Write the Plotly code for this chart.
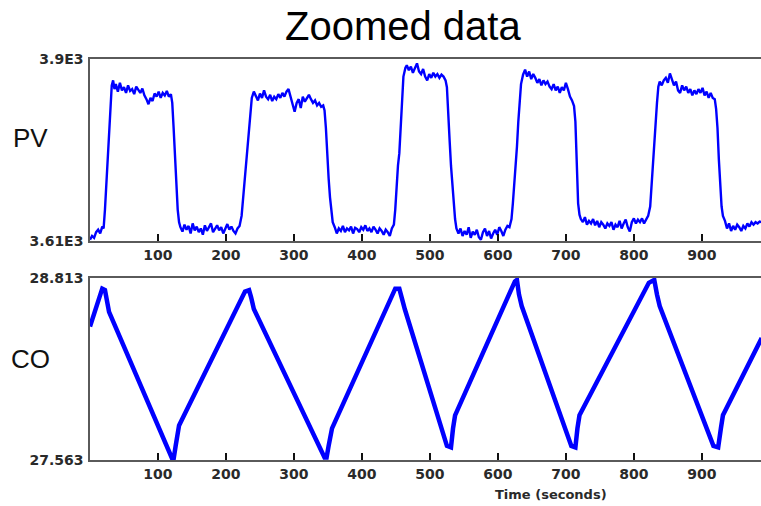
import plotly.graph_objects as go

# ---- data ----
pv_t = [0, 3, 6, 9, 12, 15, 18, 20,
        22, 24, 26, 28, 30, 32, 34, 36,
        38, 41, 44, 47, 50, 53, 56, 59, 62, 65, 68, 71, 74, 77, 80, 83, 86, 89, 92, 95, 98, 101, 104, 107, 110, 113, 116, 119,
        121, 123, 125, 127, 129, 131, 133,
        136, 139, 142, 145, 148, 151, 154, 157, 160, 163, 166, 169, 172, 175, 178, 181, 184, 187, 190, 193, 196, 199, 202, 205, 208, 211, 214, 217, 220,
        223, 226, 229, 232, 235, 238, 241,
        244, 247, 250, 253, 256, 259, 262, 265, 268, 271, 274, 277, 280, 283, 286, 289, 292, 295, 298, 301, 304, 307, 310, 313, 316, 319, 322, 325, 328, 331, 334, 337, 340, 343, 345,
        347, 349, 351, 353, 355, 357, 360,
        363, 366, 369, 372, 375, 378, 381, 384, 387, 390, 393, 396, 399, 402, 405, 408, 411, 414, 417, 420, 423, 426, 429, 432, 435, 438, 441, 444, 447,
        449, 451, 453, 455, 457, 459, 461, 464, 466,
        469, 472, 475, 478, 481, 484, 487, 490, 493, 496, 499, 502, 505, 508, 511, 514, 517, 520, 523, 525,
        527, 529, 531, 533, 535, 537, 539,
        542, 545, 548, 551, 554, 557, 560, 563, 566, 569, 572, 575, 578, 581, 584, 587, 590, 593, 596, 599, 602, 605, 608, 611, 614, 617, 620,
        622, 624, 626, 628, 630, 632, 634, 637,
        640, 643, 646, 649, 652, 655, 658, 661, 664, 667, 670, 673, 676, 679, 682, 685, 688, 691, 694, 697, 700, 703, 706, 709, 712,
        714, 716, 717, 718, 720, 722,
        725, 728, 731, 734, 737, 740, 743, 746, 749, 752, 755, 758, 761, 764, 767, 770, 773, 776, 779, 782, 785, 788, 791, 794, 797, 800, 803, 806, 809, 812, 815, 818, 821,
        824, 826, 828, 830, 832, 834, 836, 838,
        841, 844, 847, 850, 853, 856, 859, 862, 865, 868, 871, 874, 877, 880, 883, 886, 889, 892, 895, 898, 901, 904, 907, 910, 913, 916, 919, 921,
        923, 925, 927, 929, 931, 934,
        937, 940, 943, 946, 949, 952, 955, 958, 961, 964, 967, 970, 973, 976, 979, 982, 985, 988]

pv_v = [3612, 3618, 3615, 3624, 3628, 3622, 3633, 3630,
        3660, 3700, 3735, 3790, 3835, 3858, 3866, 3852,
        3860, 3848, 3862, 3850, 3855, 3846, 3858, 3849, 3852, 3844, 3856, 3850, 3846, 3853, 3842, 3836, 3828, 3838, 3833, 3845, 3840, 3848, 3838, 3846, 3842, 3849, 3840, 3844,
        3830, 3790, 3745, 3700, 3660, 3640, 3632,
        3625, 3636, 3628, 3634, 3622, 3638, 3627, 3633, 3624, 3630, 3620, 3635, 3626, 3632, 3638, 3624, 3630, 3635, 3627, 3632, 3622, 3629, 3637, 3628, 3633, 3626, 3622, 3630, 3634,
        3650, 3690, 3730, 3770, 3810, 3838, 3848,
        3842, 3834, 3845, 3838, 3850, 3840, 3836, 3843, 3833, 3840, 3836, 3844, 3838, 3846, 3840, 3848, 3852, 3840, 3826, 3816, 3830, 3836, 3822, 3840, 3832, 3838, 3843, 3836, 3830, 3834, 3826, 3830, 3824, 3826, 3818,
        3790, 3740, 3710, 3680, 3655, 3640, 3632,
        3622, 3630, 3626, 3634, 3624, 3630, 3627, 3633, 3622, 3631, 3629, 3624, 3632, 3628, 3635, 3626, 3630, 3624, 3633, 3628, 3622, 3630, 3626, 3620, 3628, 3624, 3618, 3630, 3636,
        3660, 3700, 3730, 3750, 3790, 3840, 3872, 3886, 3890,
        3882, 3888, 3878, 3886, 3893, 3880, 3876, 3884, 3872, 3866, 3876, 3870, 3878, 3872, 3876, 3870, 3875, 3872, 3866, 3855,
        3820, 3770, 3730, 3700, 3670, 3645, 3630,
        3622, 3630, 3618, 3626, 3620, 3632, 3615, 3625, 3620, 3628, 3616, 3612, 3624, 3630, 3618, 3626, 3614, 3622, 3628, 3620, 3632, 3626, 3618, 3628, 3634, 3632, 3645,
        3670, 3700, 3720, 3760, 3800, 3835, 3860, 3875,
        3883, 3872, 3880, 3868, 3876, 3870, 3862, 3868, 3858, 3866, 3860, 3864, 3856, 3852, 3860, 3850, 3856, 3846, 3855, 3850, 3862, 3852, 3840, 3834, 3825,
        3800, 3740, 3700, 3670, 3652, 3645,
        3640, 3648, 3636, 3642, 3638, 3645, 3635, 3642, 3632, 3640, 3636, 3630, 3638, 3634, 3640, 3628, 3636, 3632, 3642, 3630, 3638, 3644, 3632, 3625, 3640, 3646, 3638, 3644, 3640, 3646, 3638, 3645, 3650,
        3665, 3700, 3740, 3770, 3795, 3830, 3856, 3864,
        3858, 3866, 3870, 3862, 3877, 3866, 3858, 3864, 3850, 3846, 3858, 3850, 3856, 3846, 3852, 3842, 3850, 3844, 3852, 3846, 3854, 3842, 3848, 3838, 3846, 3838, 3836, 3820,
        3790, 3740, 3690, 3665, 3650, 3642,
        3630, 3638, 3626, 3634, 3628, 3636, 3632, 3626, 3634, 3630, 3638, 3633, 3640, 3636, 3640, 3638, 3641, 3640]

co_t = [0, 8, 14, 18, 22, 25, 28, 121, 123, 126, 131, 228, 234, 237, 241, 345, 348, 351, 356,
        449, 455, 459, 463, 525, 531, 534, 537, 625, 628, 631, 635, 708, 714, 717, 720,
        822, 830, 834, 838, 917, 924, 928, 931, 988]
co_v = [28.48, 28.60, 28.70, 28.74, 28.73, 28.66, 28.58, 27.57, 27.57, 27.66, 27.80, 28.72, 28.73, 28.68, 28.60,
        27.58, 27.58, 27.66, 27.78, 28.74, 28.74, 28.67, 28.60, 27.66, 27.65, 27.78, 27.87, 28.79, 28.80, 28.70, 28.62,
        27.66, 27.65, 27.78, 27.87, 28.78, 28.80, 28.70, 28.62, 27.66, 27.65, 27.78, 27.87, 28.40]

x_ticks = [100, 200, 300, 400, 500, 600, 700, 800, 900]
pv_range = [3610, 3900]
pv_ticktext = ["3.61E3", "3.9E3"]
co_range = [27.563, 28.813]
co_ticktext = ["27.563", "28.813"]

W, H = 761, 506
L = 90
BLUE = "#0000FF"
FRAME = "#5a5a5a"
tickfont = dict(family="DejaVu Sans", size=14, color="#2a2a2a", weight="bold")

fig = go.Figure()
fig.add_trace(go.Scatter(x=pv_t, y=pv_v, mode="lines", line=dict(color=BLUE, width=2.4),
                         xaxis="x", yaxis="y", showlegend=False, hoverinfo="skip"))
fig.add_trace(go.Scatter(x=co_t, y=co_v, mode="lines", line=dict(color=BLUE, width=4.5),
                         xaxis="x2", yaxis="y2", showlegend=False, hoverinfo="skip"))

def ydom(top_px, bot_px):
    return [1 - bot_px / H, 1 - top_px / H]

xcommon = dict(range=[0, 987], tickvals=x_ticks, ticks="inside", ticklen=7, tickwidth=2,
               tickcolor="#111111", showline=True, linecolor=FRAME, linewidth=1.5, mirror=True,
               showgrid=False, zeroline=False, tickfont=tickfont, domain=[0, 1], fixedrange=True,
               automargin=False)
ycommon = dict(ticks="", showline=True, linecolor=FRAME, linewidth=1.5, mirror=False,
               showgrid=False, zeroline=False, tickfont=tickfont, ticklabelstandoff=2, fixedrange=True,
               automargin=False)

fig.update_layout(
    width=W, height=H,
    margin=dict(l=L, r=0, t=0, b=0, pad=0),
    paper_bgcolor="white", plot_bgcolor="white",
    xaxis=dict(anchor="y", **xcommon),
    xaxis2=dict(anchor="y2", **xcommon),
    yaxis=dict(anchor="x", domain=ydom(59, 241), range=pv_range, tickvals=pv_range,
               ticktext=pv_ticktext, **ycommon),
    yaxis2=dict(anchor="x2", domain=ydom(278, 460), range=co_range, tickvals=co_range,
                ticktext=co_ticktext, **ycommon),
)

def px_y(py):
    return 1 - py / H

def px_x(px):
    return (px - L) / (W - L)

fig.add_annotation(xref="paper", yref="paper", showarrow=False, xanchor="center", yanchor="top",
                   x=px_x(403), y=1, yshift=-3, borderpad=0, text="Zoomed data",
                   font=dict(family="Liberation Sans", size=40, color="black"))

anns = [
    dict(text="PV", x=px_x(30), y=px_y(138), font=dict(family="Liberation Sans", size=26, color="#111111")),
    dict(text="CO", x=px_x(30), y=px_y(359), font=dict(family="Liberation Sans", size=26, color="#111111")),
    dict(text="Time (seconds)", x=px_x(551), y=px_y(494),
         font=dict(family="DejaVu Sans", size=13, color="#2a2a2a", weight="bold")),
]
for a in anns:
    fig.add_annotation(xref="paper", yref="paper", showarrow=False, xanchor="center", yanchor="middle", **a)

fig.write_html("out.html", config={"displayModeBar": False},
               post_script="document.body.style.margin='0px';document.body.style.overflow='hidden';")
